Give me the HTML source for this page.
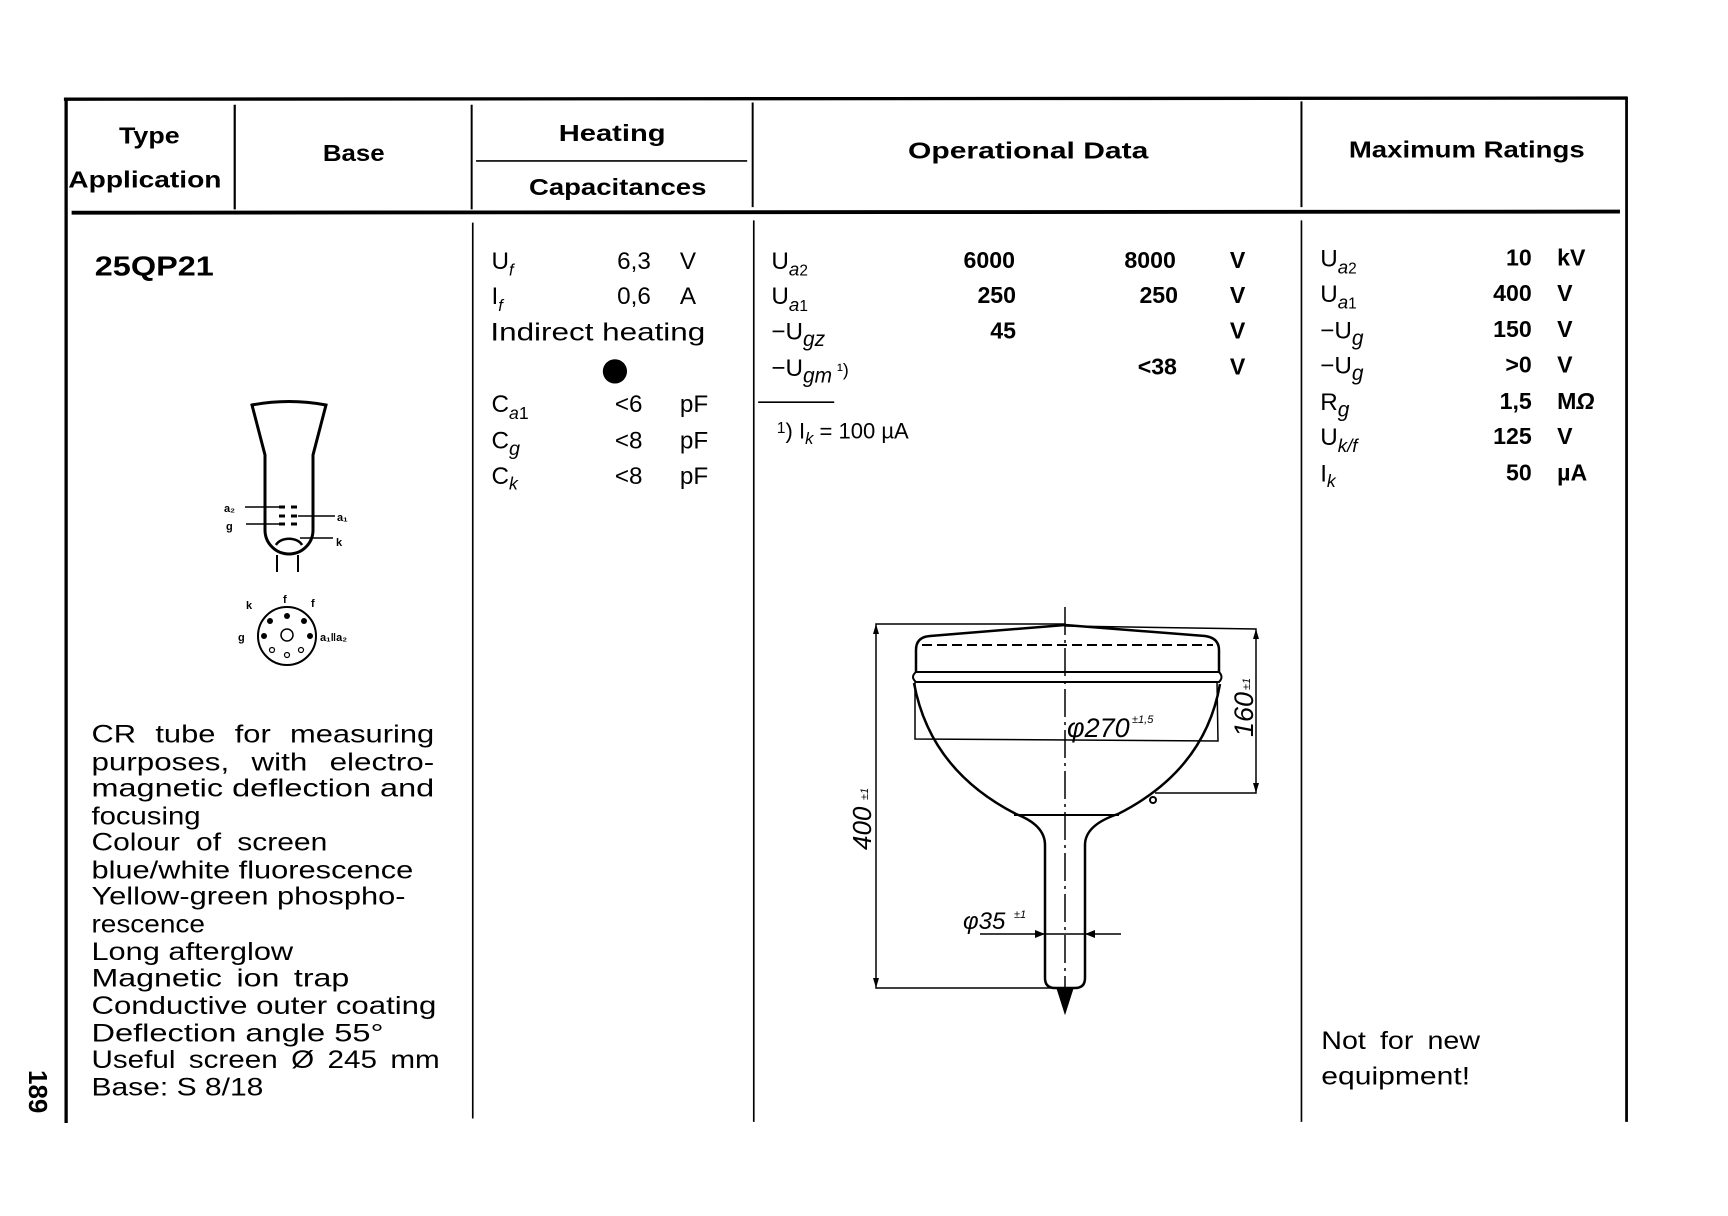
<!DOCTYPE html>
<html><head><meta charset="utf-8"><style>
html,body{margin:0;padding:0;background:#fff;}
svg{display:block;}
text{font-family:"Liberation Sans",sans-serif;fill:#000;}
.h{font-weight:bold;font-size:21px;}
.b{font-size:22px;}
.d{font-size:23px;}
.n{font-size:21px;font-weight:bold;}
</style></head><body>
<svg width="1728" height="1216" viewBox="0 0 1728 1216" xmlns="http://www.w3.org/2000/svg">
<g transform="scale(1.102)">
<g stroke="#000" fill="none">
<line x1="58" y1="90" x2="1477" y2="89" stroke-width="3"/>
<line x1="60" y1="91" x2="60" y2="1019" stroke-width="3"/>
<line x1="65" y1="193" x2="1470" y2="192" stroke-width="3.5"/>
<line x1="213" y1="95" x2="213" y2="190" stroke-width="2"/>
<line x1="428" y1="95" x2="428" y2="190" stroke-width="1.8"/>
<line x1="429" y1="202" x2="429" y2="1015" stroke-width="1.5"/>
<line x1="683" y1="93" x2="683" y2="188" stroke-width="1.8"/>
<line x1="684" y1="200" x2="684" y2="1018" stroke-width="1.5"/>
<line x1="1181" y1="92" x2="1181" y2="188" stroke-width="1.8"/>
<line x1="1181" y1="200" x2="1181" y2="1018" stroke-width="1.5"/>
<line x1="1476" y1="88" x2="1476" y2="1018" stroke-width="2.5"/>
<line x1="432" y1="146" x2="678" y2="146" stroke-width="1.5"/>
<line x1="688" y1="365" x2="757" y2="365" stroke-width="1.5"/>
</g>
<text class="h" x="108" y="130" textLength="55" lengthAdjust="spacingAndGlyphs">Type</text>
<text class="h" x="62" y="170" textLength="139" lengthAdjust="spacingAndGlyphs">Application</text>
<text class="h" x="293" y="146" textLength="56" lengthAdjust="spacingAndGlyphs">Base</text>
<text class="h" x="507" y="128" textLength="97" lengthAdjust="spacingAndGlyphs">Heating</text>
<text class="h" x="480" y="177" textLength="161" lengthAdjust="spacingAndGlyphs">Capacitances</text>
<text class="h" x="824" y="144" textLength="218" lengthAdjust="spacingAndGlyphs">Operational Data</text>
<text class="h" x="1224" y="143" textLength="214" lengthAdjust="spacingAndGlyphs">Maximum Ratings</text>
<text x="86" y="250" style="font-size:25px;font-weight:bold" textLength="108" lengthAdjust="spacingAndGlyphs">25QP21</text>
<g>
<text class="d" x="83" y="674" textLength="311" lengthAdjust="spacingAndGlyphs" word-spacing="8">CR tube for measuring</text>
<text class="d" x="83" y="699" textLength="311" lengthAdjust="spacingAndGlyphs" word-spacing="10">purposes, with electro-</text>
<text class="d" x="83" y="723" textLength="311" lengthAdjust="spacingAndGlyphs">magnetic deflection and</text>
<text class="d" x="83" y="748" textLength="99" lengthAdjust="spacingAndGlyphs">focusing</text>
<text class="d" x="83" y="772" textLength="214" lengthAdjust="spacingAndGlyphs" word-spacing="6">Colour of screen</text>
<text class="d" x="83" y="797" textLength="292" lengthAdjust="spacingAndGlyphs">blue/white fluorescence</text>
<text class="d" x="83" y="821" textLength="285" lengthAdjust="spacingAndGlyphs">Yellow-green phospho-</text>
<text class="d" x="83" y="846" textLength="103" lengthAdjust="spacingAndGlyphs">rescence</text>
<text class="d" x="83" y="871" textLength="183" lengthAdjust="spacingAndGlyphs">Long afterglow</text>
<text class="d" x="83" y="895" textLength="234" lengthAdjust="spacingAndGlyphs" word-spacing="4">Magnetic ion trap</text>
<text class="d" x="83" y="920" textLength="313" lengthAdjust="spacingAndGlyphs">Conductive outer coating</text>
<text class="d" x="83" y="945" textLength="265" lengthAdjust="spacingAndGlyphs">Deflection angle 55°</text>
<text class="d" x="83" y="969" textLength="316" lengthAdjust="spacingAndGlyphs" word-spacing="4">Useful screen Ø 245 mm</text>
<text class="d" x="83" y="994" textLength="156" lengthAdjust="spacingAndGlyphs">Base: S 8/18</text>
</g>
<text class="b" x="446" y="244">U<tspan font-size="15" font-style="italic" dy="6">f</tspan></text>
<text class="b" x="560" y="244">6,3</text><text class="b" x="617" y="244">V</text>
<text class="b" x="446" y="276">I<tspan font-size="15" font-style="italic" dy="6">f</tspan></text>
<text class="b" x="560" y="276">0,6</text><text class="b" x="617" y="276">A</text>
<text class="d" x="445" y="309" textLength="195" lengthAdjust="spacingAndGlyphs">Indirect heating</text>
<text class="b" x="446" y="374">C<tspan font-size="16" font-style="italic" dy="6">a</tspan><tspan font-size="16">1</tspan></text>
<text class="b" x="558" y="374">&lt;6</text><text class="b" x="617" y="374">pF</text>
<text class="b" x="446" y="407">C<tspan font-size="18" font-style="italic" dy="6">g</tspan></text>
<text class="b" x="558" y="407">&lt;8</text><text class="b" x="617" y="407">pF</text>
<text class="b" x="446" y="439">C<tspan font-size="16" font-style="italic" dy="5">k</tspan></text>
<text class="b" x="558" y="439">&lt;8</text><text class="b" x="617" y="439">pF</text>
<circle cx="558" cy="337" r="11" fill="#000"/>
<text class="b" x="700" y="244">U<tspan font-size="17" font-style="italic" dy="6">a</tspan><tspan font-size="14">2</tspan></text>
<text class="b" x="700" y="276">U<tspan font-size="17" font-style="italic" dy="6">a</tspan><tspan font-size="14">1</tspan></text>
<text class="b" x="700" y="308">−U<tspan font-size="19" font-style="italic" dy="6">gz</tspan></text>
<text class="b" x="700" y="341">−U<tspan font-size="19" font-style="italic" dy="6">gm</tspan><tspan dy="-6" font-size="16"> ¹)</tspan></text>
<g text-anchor="end">
<text class="n" x="921" y="243">6000</text><text class="n" x="1067" y="243">8000</text>
<text class="n" x="922" y="275">250</text><text class="n" x="1069" y="275">250</text>
<text class="n" x="922" y="307">45</text>
<text class="n" x="1068" y="340">&lt;38</text>
</g>
<text class="n" x="1116" y="243">V</text><text class="n" x="1116" y="275">V</text><text class="n" x="1116" y="307">V</text><text class="n" x="1116" y="340">V</text>
<text x="705" y="398" style="font-size:20px"><tspan font-size="14" dy="-5">1</tspan><tspan dy="5">) I</tspan><tspan font-size="15" font-style="italic" dy="5">k</tspan><tspan dy="-5"> = 100 µA</tspan></text>
<text class="b" x="1198" y="242">U<tspan font-size="17" font-style="italic" dy="6">a</tspan><tspan font-size="14">2</tspan></text>
<text class="b" x="1198" y="274">U<tspan font-size="17" font-style="italic" dy="6">a</tspan><tspan font-size="14">1</tspan></text>
<text class="b" x="1198" y="307">−U<tspan font-size="19" font-style="italic" dy="6">g</tspan></text>
<text class="b" x="1198" y="339">−U<tspan font-size="19" font-style="italic" dy="6">g</tspan></text>
<text class="b" x="1198" y="372">R<tspan font-size="19" font-style="italic" dy="6">g</tspan></text>
<text class="b" x="1198" y="404">U<tspan font-size="17" font-style="italic" dy="6">k/f</tspan></text>
<text class="b" x="1198" y="437">I<tspan font-size="16" font-style="italic" dy="5">k</tspan></text>
<g text-anchor="end">
<text class="n" x="1390" y="241">10</text><text class="n" x="1390" y="273">400</text><text class="n" x="1390" y="306">150</text>
<text class="n" x="1390" y="338">&gt;0</text><text class="n" x="1390" y="371">1,5</text><text class="n" x="1390" y="403">125</text><text class="n" x="1390" y="436">50</text>
</g>
<text class="n" x="1413" y="241">kV</text><text class="n" x="1413" y="273">V</text><text class="n" x="1413" y="306">V</text>
<text class="n" x="1413" y="338">V</text><text class="n" x="1413" y="371">M<tspan font-style="italic">Ω</tspan></text><text class="n" x="1413" y="403">V</text><text class="n" x="1413" y="436">µA</text>
<text class="d" x="1199" y="952" textLength="144" lengthAdjust="spacingAndGlyphs" word-spacing="5">Not for new</text>
<text class="d" x="1199" y="984" textLength="135" lengthAdjust="spacingAndGlyphs">equipment!</text>
</g>
<text transform="translate(29,1070) rotate(90)" style="font-size:26px;font-weight:bold">189</text>
<g stroke="#000" fill="none" stroke-width="3">
<path d="M252,405 Q289,398 326,405 L313,455 L313,530 A24,24 0 0 1 265,530 L265,455 Z"/>
<line x1="277" y1="555" x2="277" y2="572" stroke-width="2"/>
<line x1="298" y1="555" x2="298" y2="572" stroke-width="2"/>
<path d="M276,545 A14,10 0 0 1 302,545" stroke-width="2.5"/>
<g stroke-width="1.6"><line x1="245" y1="507" x2="285" y2="507"/><line x1="246" y1="524" x2="285" y2="524"/><line x1="298" y1="516" x2="335" y2="516"/><line x1="300" y1="538" x2="333" y2="538"/></g>
<g stroke-width="3"><line x1="279" y1="507" x2="285" y2="507"/><line x1="291" y1="507" x2="297" y2="507"/><line x1="279" y1="516" x2="285" y2="516"/><line x1="291" y1="516" x2="297" y2="516"/><line x1="279" y1="524" x2="285" y2="524"/><line x1="291" y1="524" x2="297" y2="524"/></g>
<circle cx="287" cy="636" r="29" stroke-width="2"/>
<circle cx="287" cy="635" r="6" stroke-width="1.5"/>
<g stroke-width="1.2"><circle cx="272" cy="650" r="2.5"/><circle cx="287" cy="655" r="2.5"/><circle cx="301" cy="650" r="2.5"/></g>
</g>
<g fill="#000"><circle cx="270" cy="621" r="3"/><circle cx="287" cy="616" r="3"/><circle cx="304" cy="621" r="3"/><circle cx="264" cy="636" r="3"/><circle cx="310" cy="636" r="3"/></g>
<g style="font-size:11px;font-weight:bold">
<text x="224" y="512">a₂</text><text x="226" y="530">g</text><text x="337" y="521">a₁</text><text x="336" y="546">k</text>
<text x="246" y="609">k</text><text x="283" y="603">f</text><text x="311" y="607">f</text><text x="238" y="641">g</text><text x="320" y="641">a₁‖a₂</text>
</g>
<g stroke="#000" fill="none" stroke-width="2">
<line x1="1065" y1="607" x2="1065" y2="1017" stroke-width="1.5" stroke-dasharray="28,5,3,5"/>
<polyline points="1065,624 876,624 876,988 1052,988" stroke-width="1.5"/>
<polyline points="1065,626 1256,629 1256,793 1155,793" stroke-width="1.5"/>
<path d="M916,673 L916,650 Q916,637 930,636 L1065,625 L1205,636 Q1219,638 1219,650 L1219,673" stroke-width="2.5"/>
<line x1="922" y1="645" x2="1213" y2="645" stroke-dasharray="10,5"/>
<path d="M916,672 L1219,672 Q1224,677 1219,682 L916,682 Q910,677 916,672 Z" stroke-width="2"/>
<polyline points="915,682 915,739 1218,741 1217,682" stroke-width="1.5"/>
<path d="M914,683 Q930,770 1016,814 Q1045,825 1045,845 L1045,978 Q1045,988 1055,988 L1075,988 Q1085,988 1085,978 L1085,845 Q1085,825 1118,814 Q1205,770 1220,684" stroke-width="2.5"/>
<line x1="1014" y1="815" x2="1119" y2="815"/>
<path d="M1058,990 L1065,1012 L1072,990 Z" fill="#000"/>
<line x1="980" y1="934" x2="1121" y2="934" stroke-width="1.5"/>
<circle cx="1153" cy="800" r="3"/>
</g>
<g fill="#000"><path d="M1045,934 l-10,-4 l0,8 z"/><path d="M1085,934 l10,-4 l0,8 z"/>
<path d="M876,624 l-3,10 l6,0 z"/><path d="M876,988 l-3,-10 l6,0 z"/><path d="M1256,629 l-3,10 l6,0 z"/><path d="M1256,793 l-3,-10 l6,0 z"/></g>
<g style="font-style:italic">
<text x="1067" y="737" style="font-size:27px">φ270</text><text x="1132" y="723" style="font-size:11px">±1,5</text>
<text x="963" y="929" style="font-size:24px">φ35</text><text x="1014" y="918" style="font-size:11px">±1</text>
<text transform="translate(1253,737) rotate(-90)" style="font-size:27px">160</text>
<text transform="translate(1250,690) rotate(-90)" style="font-size:11px">±1</text>
<text transform="translate(871,850) rotate(-90)" style="font-size:26px">400</text>
<text transform="translate(868,800) rotate(-90)" style="font-size:11px">±1</text>
</g>
</svg>
</body></html>
